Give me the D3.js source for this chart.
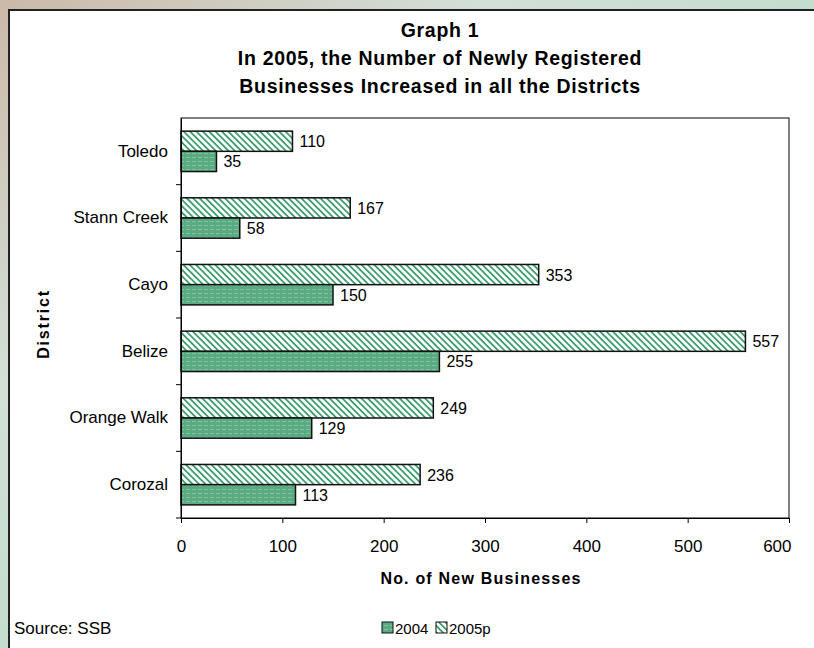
<!DOCTYPE html>
<html>
<head>
<meta charset="utf-8">
<script src="https://cdn.jsdelivr.net/npm/d3@7"></script>
<style>
  body { margin: 0; background: #fff; }
  svg { display: block; font-family: "Liberation Sans", Arial, sans-serif; }
</style>
</head>
<body>
<svg id="chart" width="814" height="648"></svg>
<script>
// chart data
const districts = ['Toledo', 'Stann Creek', 'Cayo', 'Belize', 'Orange Walk', 'Corozal'];
const values2004 = [35, 58, 150, 255, 129, 113];
const values2005 = [110, 167, 353, 557, 249, 236];
const seriesNames = ['2004', '2005p'];
const xTicks = [0, 100, 200, 300, 400, 500, 600];

const width = 814, height = 648;
const plot = { left: 181, right: 789, top: 118, bottom: 518 };

const svg = d3.select('#chart');
const defs = svg.append('defs');

// backdrop gradient (slide behind the chart panel)
const bg = defs.append('linearGradient').attr('id', 'bg')
    .attr('x1', 0).attr('y1', 0).attr('x2', 1).attr('y2', 1);
bg.append('stop').attr('offset', '0%').attr('stop-color', '#cbb9a9');
bg.append('stop').attr('offset', '30%').attr('stop-color', '#d3e0d8');
bg.append('stop').attr('offset', '100%').attr('stop-color', '#9fd4b4');

// dotted fill for 2004
const p1 = defs.append('pattern').attr('id', 'pat2004')
    .attr('patternUnits', 'userSpaceOnUse').attr('width', 6).attr('height', 4);
p1.append('rect').attr('width', 6).attr('height', 4).attr('fill', '#5aab82');
p1.append('rect').attr('x', 0).attr('y', 1).attr('width', 4).attr('height', 1).attr('fill', '#84c2a2');

// diagonal stripes for 2005p
const p2 = defs.append('pattern').attr('id', 'pat2005')
    .attr('patternUnits', 'userSpaceOnUse').attr('width', 4.5).attr('height', 4.5)
    .attr('patternTransform', 'rotate(-45)');
p2.append('rect').attr('width', 4.5).attr('height', 4.5).attr('fill', '#fff');
p2.append('rect').attr('x', 0).attr('y', 0).attr('width', 1.8).attr('height', 4.5).attr('fill', '#3f9e6e');

svg.append('rect').attr('width', width).attr('height', height).attr('fill', 'url(#bg)');
svg.append('rect').attr('x', 10).attr('y', 11).attr('width', width - 10).attr('height', height - 11).attr('fill', '#fff');
svg.append('path').attr('d', `M9,${height} V10 H${width}`).attr('fill', 'none')
    .attr('stroke', '#222').attr('stroke-width', 2);

// title
const titleLines = ['Graph 1', 'In 2005, the Number of Newly Registered', 'Businesses Increased in all the Districts'];
svg.append('g').selectAll('text').data(titleLines).join('text')
    .attr('x', 440).attr('y', (d, i) => 37 + i * 28)
    .attr('text-anchor', 'middle')
    .attr('font-size', 19.5).attr('font-weight', 'bold')
    .attr('letter-spacing', 0.7)
    .text(d => d);

const x = d3.scaleLinear().domain([0, 600]).range([plot.left, plot.right]);
const y = d3.scaleBand().domain(districts).range([plot.top, plot.bottom]);
const sub = d3.scaleBand().domain(['2005p', '2004'])
    .range([0, y.bandwidth()]).paddingOuter(0.65);

// plot box
svg.append('rect')
    .attr('x', plot.left).attr('y', plot.top)
    .attr('width', plot.right - plot.left).attr('height', plot.bottom - plot.top)
    .attr('fill', '#fff').attr('stroke', '#000').attr('stroke-width', 1);

// bars
const bars = [];
districts.forEach((d, i) => {
    bars.push({ d, s: '2005p', v: values2005[i], fill: 'url(#pat2005)' });
    bars.push({ d, s: '2004', v: values2004[i], fill: 'url(#pat2004)' });
});
const g = svg.append('g');
g.selectAll('rect').data(bars).join('rect')
    .attr('x', x(0))
    .attr('y', b => y(b.d) + sub(b.s))
    .attr('width', b => x(b.v) - x(0))
    .attr('height', sub.bandwidth())
    .attr('fill', b => b.fill)
    .attr('stroke', '#111').attr('stroke-width', 1.5);

g.selectAll('text').data(bars).join('text')
    .attr('x', b => x(b.v) + 7)
    .attr('y', b => y(b.d) + sub(b.s) + sub.bandwidth() / 2 + 6)
    .attr('font-size', 16)
    .text(b => b.v);

// axes
const xAxis = svg.append('g').attr('transform', `translate(0,${plot.bottom})`)
    .call(d3.axisBottom(x).tickValues(xTicks).tickSize(5).tickPadding(17));
xAxis.select('.domain').attr('stroke', '#000');
xAxis.selectAll('text').attr('font-size', 17).attr('font-family', null).attr('fill', '#000')
    .filter(d => d === 600).attr('text-anchor', 'end').attr('dx', 2);

const yAxis = svg.append('g').attr('transform', `translate(${plot.left},0)`)
    .call(d3.axisLeft(y).tickSize(0).tickPadding(13));
yAxis.select('.domain').attr('stroke', '#000');
yAxis.selectAll('text').attr('font-size', 17).attr('font-family', null).attr('fill', '#000');
// category separator ticks
svg.append('g').selectAll('line').data(districts.slice(1)).join('line')
    .attr('x1', plot.left - 5).attr('x2', plot.left)
    .attr('y1', d => y(d)).attr('y2', d => y(d))
    .attr('stroke', '#000');
svg.append('line').attr('x1', plot.left - 5).attr('x2', plot.left)
    .attr('y1', plot.bottom).attr('y2', plot.bottom).attr('stroke', '#000');

// axis titles
svg.append('text').attr('x', 481).attr('y', 584)
    .attr('text-anchor', 'middle').attr('font-size', 16).attr('font-weight', 'bold')
    .attr('letter-spacing', 1.2)
    .text('No. of New Businesses');
svg.append('text').attr('transform', 'translate(49,324) rotate(-90)')
    .attr('text-anchor', 'middle').attr('font-size', 16).attr('font-weight', 'bold')
    .attr('letter-spacing', 1.8)
    .text('District');

svg.append('text').attr('x', 14).attr('y', 634).attr('font-size', 17).text('Source: SSB');

// legend
const legend = svg.append('g');
const legendItems = [
    { name: seriesNames[0], fill: 'url(#pat2004)', x: 382 },
    { name: seriesNames[1], fill: 'url(#pat2005)', x: 436 }
];
legend.selectAll('rect').data(legendItems).join('rect')
    .attr('x', d => d.x).attr('y', 622).attr('width', 11).attr('height', 11)
    .attr('fill', d => d.fill).attr('stroke', '#111').attr('stroke-width', 1);
legend.selectAll('text').data(legendItems).join('text')
    .attr('x', d => d.x + 13).attr('y', 634).attr('font-size', 15)
    .text(d => d.name);
</script>
</body>
</html>
